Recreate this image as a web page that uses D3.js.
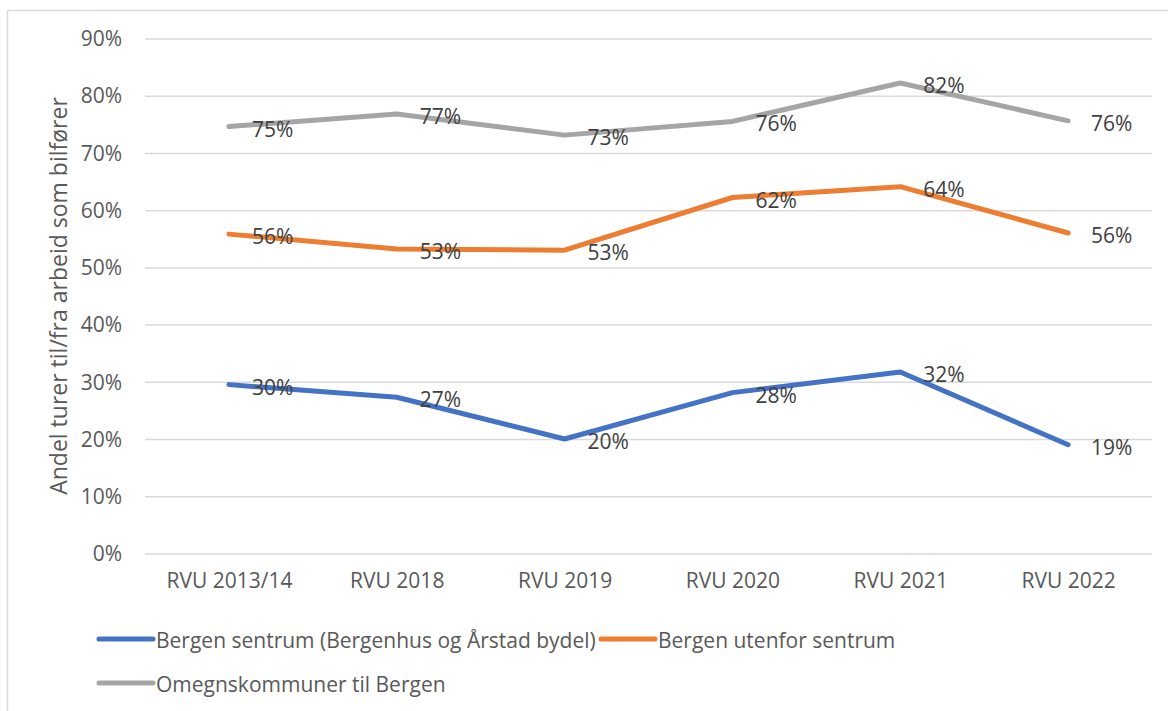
<!DOCTYPE html>
<html>
<head>
<meta charset="utf-8">
<script src="https://cdn.jsdelivr.net/npm/d3@7"></script>
<style>
  body { margin: 0; background: #fff; }
  text { font-family: "Open Sans", "Noto Sans", sans-serif; }
</style>
</head>
<body>
<div id="chart"></div>
<script>
// categories and series (values in %)
var categories = ["RVU 2013/14", "RVU 2018", "RVU 2019", "RVU 2020", "RVU 2021", "RVU 2022"];
var sentrum = [29.6, 27.4, 20.1, 28.2, 31.8, 19.1];
var utenfor = [55.9, 53.3, 53.1, 62.3, 64.2, 56.1];
var omegn = [74.7, 76.9, 73.2, 75.6, 82.3, 75.7];
var seriesNames = ["Bergen sentrum (Bergenhus og Årstad bydel)", "Bergen utenfor sentrum", "Omegnskommuner til Bergen"];
var seriesColors = ["#4472C4", "#ED7D31", "#A5A5A5"];
var yTicks = [0, 10, 20, 30, 40, 50, 60, 70, 80, 90];

var svgWidth = 1168;
var svgHeight = 711;

var margin = {top: 39, right: 16, bottom: 157, left: 145};
var width = svgWidth - margin.left - margin.right;
var height = svgHeight - margin.top - margin.bottom;

var svg = d3.select("#chart")
  .append("svg")
  .attr("width", svgWidth)
  .attr("height", svgHeight);

// outer chart frame (only top and left edges visible)
svg.append("rect")
  .attr("x", 7.5).attr("y", 10.5)
  .attr("width", 1200).attr("height", 800)
  .attr("fill", "none")
  .attr("stroke", "#d9d9d9")
  .attr("stroke-width", 1.5);

var chartGroup = svg.append("g")
  .attr("transform", `translate(${margin.left}, ${margin.top})`);

var xScale = d3.scalePoint()
  .domain(categories)
  .range([0, width])
  .padding(0.5);

var yScale = d3.scaleLinear()
  .domain([0, 90])
  .range([height, 0]);

// gridlines
chartGroup.append("g")
  .selectAll("line")
  .data(yTicks)
  .enter()
  .append("line")
  .attr("x1", 0)
  .attr("x2", width)
  .attr("y1", d => yScale(d))
  .attr("y2", d => yScale(d))
  .attr("stroke", "#d9d9d9")
  .attr("stroke-width", 1.5);

// y axis labels
var yAxis = d3.axisLeft(yScale)
  .tickValues(yTicks)
  .tickFormat(d => d + "%")
  .tickSize(0)
  .tickPadding(23);
var yG = chartGroup.append("g").call(yAxis);
yG.select(".domain").remove();
yG.selectAll("text")
  .attr("font-size", "21px")
  .attr("fill", "#595959")
  .attr("font-family", "Open Sans");

// x axis labels
var xAxis = d3.axisBottom(xScale).tickSize(0).tickPadding(19);
var xG = chartGroup.append("g")
  .attr("transform", `translate(0, ${height})`)
  .call(xAxis);
xG.select(".domain").remove();
xG.selectAll("text")
  .attr("font-size", "21px")
  .attr("fill", "#595959")
  .attr("font-family", "Open Sans");

// lines
var allSeries = [sentrum, utenfor, omegn];
var line = d3.line()
  .x((d, i) => xScale(categories[i]))
  .y(d => yScale(d));

allSeries.forEach(function(values, s) {
  chartGroup.append("path")
    .datum(values)
    .attr("d", line)
    .attr("fill", "none")
    .attr("stroke", seriesColors[s])
    .attr("stroke-width", 5)
    .attr("stroke-linejoin", "round")
    .attr("stroke-linecap", "round");
});

// data labels
allSeries.forEach(function(values) {
  chartGroup.append("g")
    .selectAll("text")
    .data(values)
    .enter()
    .append("text")
    .attr("x", (d, i) => xScale(categories[i]) + 23)
    .attr("y", d => yScale(d) + 2)
    .attr("dominant-baseline", "central")
    .attr("font-size", "21px")
    .attr("fill", "#404040")
    .text(d => Math.round(d) + "%");
});

// y axis title
svg.append("text")
  .attr("transform", "translate(67, 296) rotate(-90)")
  .attr("text-anchor", "middle")
  .attr("font-size", "23px")
  .attr("fill", "#595959")
  .text("Andel turer til/fra arbeid som bilfører");

// legend
var legendPos = [{x: 99, y: 639}, {x: 601, y: 639}, {x: 99, y: 683}];
seriesNames.forEach(function(name, s) {
  var g = svg.append("g")
    .attr("transform", `translate(${legendPos[s].x}, ${legendPos[s].y})`);
  g.append("line")
    .attr("x1", 0).attr("x2", 54)
    .attr("y1", 0).attr("y2", 0)
    .attr("stroke", seriesColors[s])
    .attr("stroke-width", 5)
    .attr("stroke-linecap", "round");
  g.append("text")
    .attr("x", 57)
    .attr("y", 1)
    .attr("dominant-baseline", "central")
    .attr("font-size", "21px")
    .attr("fill", "#595959")
    .text(name);
});
</script>
</body>
</html>
